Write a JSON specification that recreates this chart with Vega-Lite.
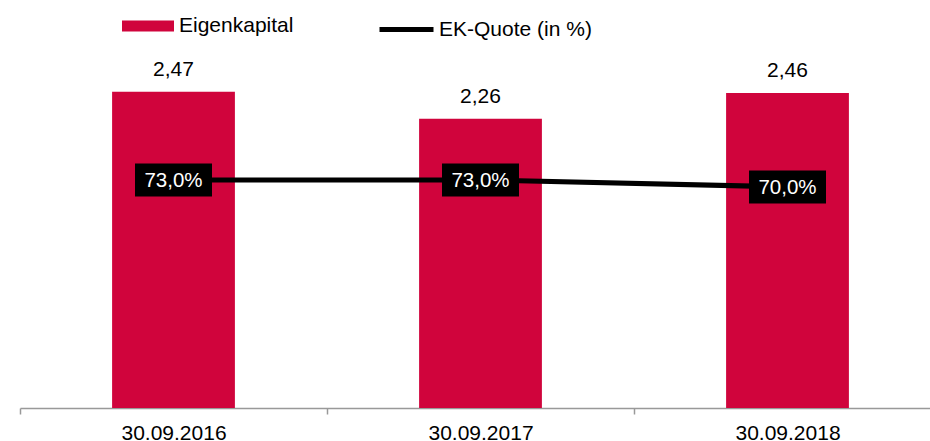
{
  "$schema": "https://vega.github.io/schema/vega-lite/v6.json",
  "width": 921,
  "height": 384,
  "autosize": {"type": "none"},
  "padding": {"left": 20, "top": 24, "right": 0, "bottom": 33},
  "config": {"view": {"stroke": null}, "font": "Liberation Sans"},
  "data": {"values": [
    {"datum": "30.09.2016", "ek": 2.47, "ek_label": "2,47", "quote": 73.0, "quote_label": "73,0%"},
    {"datum": "30.09.2017", "ek": 2.26, "ek_label": "2,26", "quote": 73.0, "quote_label": "73,0%"},
    {"datum": "30.09.2018", "ek": 2.46, "ek_label": "2,46", "quote": 70.0, "quote_label": "70,0%"}
  ]},
  "encoding": {
    "x": {"field": "datum", "type": "ordinal", "sort": null,
      "scale": {"paddingInner": 0.6, "paddingOuter": 0.3},
      "axis": {"title": null, "labelAngle": 0, "labelFontSize": 21, "labelColor": "#000", "labelFont": "Liberation Sans",
        "domainColor": "#999999", "tickColor": "#999999", "tickSize": 6, "bandPosition": 0, "tickOffset": -92.1, "labelOffset": 92.1,
        "labelPadding": 8, "domainWidth": 1.5, "tickWidth": 1.5}}
  },
  "layer": [
    {"layer": [
      {"mark": {"type": "bar", "color": "#D0043C"},
        "encoding": {
          "y": {"field": "ek", "type": "quantitative", "scale": {"domain": [0, 3], "nice": false}, "axis": null},
          "fill": {"datum": "Eigenkapital", "type": "nominal", "scale": {"range": ["#D0043C"]},
            "legend": {"title": null, "orient": "none", "legendX": 102, "legendY": -24,
              "symbolType": "M-1,-0.21L1,-0.21L1,0.21L-1,0.21Z", "symbolSize": 2704, "symbolStrokeWidth": 0,
              "labelFontSize": 21, "labelFont": "Liberation Sans", "labelColor": "#000", "labelOffset": 5}}
        }},
      {"mark": {"type": "text", "fontSize": 21, "baseline": "alphabetic", "dy": -16, "color": "#000"},
        "encoding": {"y": {"field": "ek", "type": "quantitative"}, "text": {"field": "ek_label"}}}
    ]},
    {"layer": [
      {"mark": {"type": "line", "strokeWidth": 5, "color": "#000"},
        "encoding": {
          "y": {"field": "quote", "type": "quantitative", "scale": {"domain": [-25, 140], "nice": false, "zero": false}, "axis": null},
          "stroke": {"datum": "EK-Quote (in %)", "type": "nominal", "scale": {"range": ["#000"]},
            "legend": {"title": null, "orient": "none", "legendX": 357, "legendY": -24,
              "symbolType": "stroke", "symbolSize": 2916, "symbolStrokeWidth": 5,
              "labelFontSize": 21, "labelFont": "Liberation Sans", "labelColor": "#000", "labelOffset": 3}}
        }},
      {"mark": {"type": "point", "shape": "M-1,-0.4286L1,-0.4286L1,0.4286L-1,0.4286Z", "size": 5929, "filled": true, "color": "#000", "opacity": 1, "strokeWidth": 0},
        "encoding": {"y": {"field": "quote", "type": "quantitative"}}},
      {"mark": {"type": "text", "fontSize": 20.5, "color": "#fff", "baseline": "alphabetic", "dy": 7.5},
        "encoding": {"y": {"field": "quote", "type": "quantitative"}, "text": {"field": "quote_label"}}}
    ]}
  ],
  "resolve": {"scale": {"y": "independent"}}
}
